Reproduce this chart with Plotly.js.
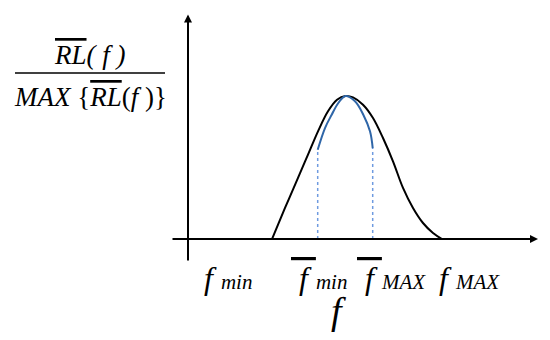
<!DOCTYPE html>
<html>
<head>
<meta charset="utf-8">
<script src="https://cdn.plot.ly/plotly-3.0.1.min.js"></script>
<style>
  html, body { margin: 0; padding: 0; background: #fff; }
  #chart { width: 550px; height: 340px; }
</style>
</head>
<body>
<div id="chart"></div>
<script>
// normalised return loss curve
var curveF = [8.4, 9.7, 11.0, 12.0, 13.0, 14.0, 14.9, 15.75, 16.5, 17.5, 18.5, 19.5, 20.5, 21.5, 22.5, 23.5, 24.5, 25.4];
var curveRL = [0, 0.217, 0.427, 0.59, 0.753, 0.893, 0.974, 1.0, 0.99, 0.939, 0.846, 0.706, 0.543, 0.357, 0.217, 0.112, 0.042, 0];

// the blue band between f-bar min and f-bar MAX
var bandF = [12.97, 13.7, 14.37, 15.03, 15.75, 16.7, 17.53, 18.2, 18.47];
var bandRL = [0.624, 0.776, 0.869, 0.951, 1.0, 0.963, 0.869, 0.753, 0.636];

// labels under the axis
var tickPos = [4.0, 13.1, 20.3, 28.1];
var tickText = [
  "<i>f <span style='font-size:21px'>min</span></i>",
  "<i><span style='text-decoration:overline'>&nbsp;f&nbsp;</span><span style='font-size:21px'>min</span></i>",
  "<i><span style='text-decoration:overline'>&nbsp;f&nbsp;</span><span style='font-size:21px'>MAX</span></i>",
  "<i>f <span style='font-size:21px'>MAX</span></i>"
];

var serif = "Liberation Serif";

var data = [
  {
    x: curveF, y: curveRL,
    mode: "lines", type: "scatter",
    line: { color: "#000", width: 2, shape: "spline" },
    hoverinfo: "skip"
  },
  {
    x: [bandF[0], bandF[0]], y: [0, bandRL[0]],
    mode: "lines", type: "scatter",
    line: { color: "#6f9be0", width: 1.5, dash: "dot" },
    hoverinfo: "skip"
  },
  {
    x: [bandF[bandF.length - 1], bandF[bandF.length - 1]], y: [0, bandRL[bandRL.length - 1]],
    mode: "lines", type: "scatter",
    line: { color: "#6f9be0", width: 1.5, dash: "dot" },
    hoverinfo: "skip"
  },
  {
    x: bandF, y: bandRL,
    mode: "lines", type: "scatter",
    line: { color: "#2f66a8", width: 2, shape: "spline" },
    hoverinfo: "skip"
  }
];

var annotations = [
  // axes with arrow heads
  { x: 35.0, y: 0, ax: -1.7, ay: 0, axref: "x", ayref: "y", xref: "x", yref: "y",
    text: "", showarrow: true, arrowhead: 2, arrowsize: 0.8, arrowwidth: 2, arrowcolor: "#000" },
  { x: 0, y: 1.57, ax: 0, ay: -0.16, axref: "x", ayref: "y", xref: "x", yref: "y",
    text: "", showarrow: true, arrowhead: 2, arrowsize: 0.8, arrowwidth: 2, arrowcolor: "#000" },
  // y label as a fraction
  { x: -9.8, y: 1.29, xref: "x", yref: "y", showarrow: false,
    text: "<i><span style='text-decoration:overline'>RL</span>( f )</i>",
    font: { family: serif, size: 27, color: "#000" } },
  { x: -9.8, y: 0.99, xref: "x", yref: "y", showarrow: false,
    text: "<i>MAX</i> {<i><span style='text-decoration:overline'>RL</span></i>(<i>f</i> )}",
    font: { family: serif, size: 27, color: "#000" } },
  // x label
  { x: 15.0, y: -0.5, xref: "x", yref: "y", showarrow: false,
    text: "<i>f</i>",
    font: { family: serif, size: 38, color: "#000" } }
];

tickPos.forEach(function (p, i) {
  annotations.push({
    x: p, y: -0.27, xref: "x", yref: "y", showarrow: false,
    text: tickText[i],
    font: { family: serif, size: 32, color: "#000" }
  });
});

var layout = {
  width: 550, height: 340,
  margin: { l: 0, r: 0, t: 0, b: 0 },
  paper_bgcolor: "#fff", plot_bgcolor: "#fff",
  showlegend: false,
  xaxis: { range: [-18.8, 36.2], visible: false, fixedrange: true },
  yaxis: { range: [-0.706, 1.671], visible: false, fixedrange: true },
  shapes: [
    { type: "line", xref: "x", yref: "y", x0: -17.3, x1: -2.3, y0: 1.161, y1: 1.161,
      line: { color: "#000", width: 1.5 } }
  ],
  annotations: annotations
};

Plotly.newPlot("chart", data, layout, { displayModeBar: false, staticPlot: true });
</script>
</body>
</html>
